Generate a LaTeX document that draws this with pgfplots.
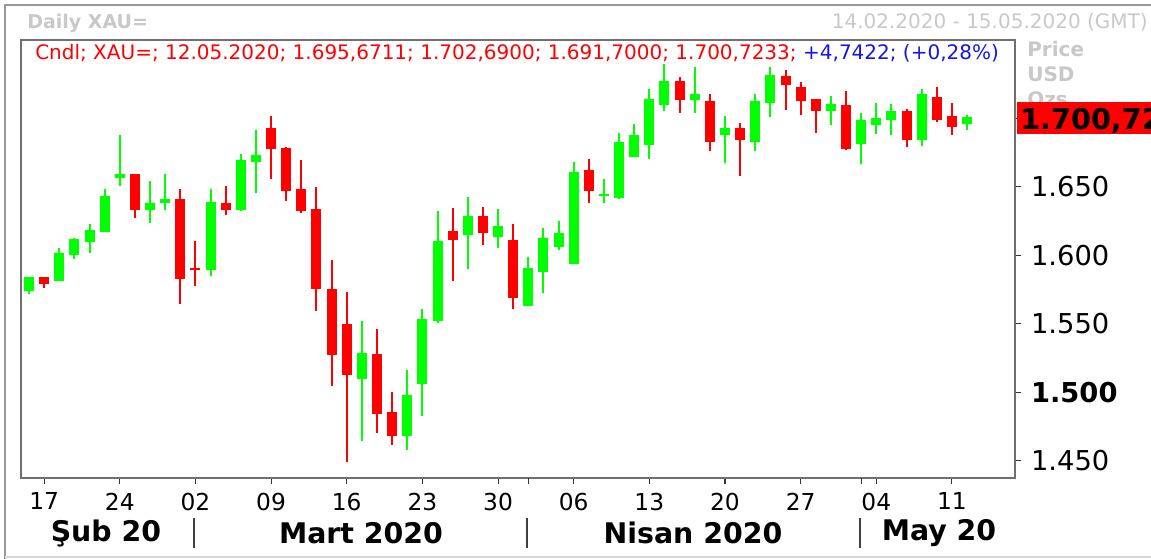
\documentclass[border=0pt]{standalone}
\usepackage{pgfplots}
\pgfplotsset{compat=1.18}
\usepackage{pgfplotstable}
\usepackage{fontspec}
\setmainfont{DejaVu Sans}
\definecolor{cgreen}{RGB}{0,255,0}
\definecolor{cred}{RGB}{255,0,0}
\definecolor{cframe}{RGB}{112,112,112}
\definecolor{lgray}{RGB}{200,200,200}
\definecolor{cblue}{RGB}{20,20,235}

% i = trading day index (0 = 14.02.2020), o h l c
\pgfplotstableread{
i o h l c
0 1573.9 1584.1 1571.9 1584.1
2 1581.2 1605.3 1581.2 1601.6
3 1600.1 1612.6 1597.2 1611.8
4 1609.6 1622.8 1601.6 1618.4
5 1616.9 1648.3 1616.9 1643.2
6 1656.6 1687.7 1650.5 1659.3
8 1633.0 1654.2 1623.5 1638.1
9 1638.1 1659.3 1633.0 1641.0
12 1589.2 1648.3 1584.8 1638.8
14 1633.0 1673.9 1632.3 1669.5
15 1668.0 1691.4 1645.4 1673.1
22 1509.6 1552.0 1464.4 1528.6
25 1468.0 1516.2 1457.8 1498.0
26 1506.0 1560.7 1482.6 1553.4
27 1552.0 1632.3 1550.5 1610.4
29 1614.7 1642.4 1589.9 1628.6
31 1613.3 1633.7 1605.3 1621.3
33 1562.9 1598.7 1562.9 1590.6
34 1587.7 1619.9 1572.4 1612.6
35 1606.0 1625.0 1603.8 1616.2
36 1593.6 1668.0 1593.6 1660.7
38 1643.1 1655.6 1638.1 1644.3
39 1641.7 1689.2 1641.0 1682.6
40 1671.7 1695.8 1671.7 1687.7
41 1680.4 1721.3 1670.2 1714.0
42 1709.6 1739.5 1705.2 1727.1
44 1713.3 1737.4 1703.8 1717.6
46 1687.7 1701.6 1667.3 1692.8
48 1682.6 1717.6 1676.1 1712.5
49 1711.1 1737.4 1700.9 1731.5
53 1705.2 1716.2 1695.0 1710.4
55 1681.2 1703.8 1666.5 1698.7
56 1695.0 1711.1 1688.5 1700.1
57 1698.7 1710.4 1687.7 1705.2
59 1684.1 1721.3 1679.7 1717.6
62 1695.67 1702.69 1691.70 1700.72
}\greendata

\pgfplotstableread{
i o h l c
1 1584.1 1584.1 1576.3 1579.2
7 1659.3 1659.3 1627.1 1633.0
10 1641.0 1648.3 1564.4 1582.6
11 1590.5 1610.3 1577.8 1589.6
13 1638.1 1650.5 1629.4 1633.0
16 1692.8 1701.6 1655.6 1677.5
17 1678.2 1679.0 1639.6 1647.1
18 1648.3 1669.5 1630.9 1632.3
19 1633.7 1649.8 1559.3 1575.3
20 1575.3 1596.5 1504.5 1527.2
21 1549.8 1573.1 1449.1 1512.6
23 1527.9 1546.1 1470.2 1484.1
24 1485.5 1500.1 1461.5 1468.0
28 1617.7 1634.5 1581.2 1611.1
30 1628.6 1635.2 1607.5 1616.2
32 1611.1 1622.8 1560.7 1568.8
37 1662.0 1670.2 1638.1 1646.7
43 1727.1 1730.1 1703.8 1713.3
45 1712.5 1717.6 1676.1 1682.6
47 1692.8 1696.5 1657.7 1684.1
50 1730.8 1735.2 1706.0 1724.2
51 1722.8 1726.4 1702.3 1712.5
52 1714.0 1714.0 1689.2 1705.2
54 1709.6 1719.8 1676.8 1677.5
58 1705.2 1706.7 1679.0 1684.1
60 1715.4 1722.8 1697.2 1698.7
61 1701.6 1711.1 1687.7 1693.6
}\reddata

\pgfplotsset{
  wick/.style={only marks, mark=*, mark size=0pt, mark options={draw=none, fill=none}, forget plot,
    error bars/.cd, y dir=both, y explicit, error mark=none,
    error bar style={draw=#1, line width=1.5pt}},
  body/.style={only marks, mark=*, mark size=0pt, mark options={draw=none, fill=none}, forget plot,
    error bars/.cd, y dir=both, y explicit, error mark=none,
    error bar style={draw=#1, line width=7.5pt}},
}

\begin{document}
\begin{tikzpicture}
\path[use as bounding box] (0,0) rectangle (863.25pt,-419.25pt);
\begin{scope}
\clip (0,0) rectangle (863.25pt,-419.25pt);
\begin{axis}[
  at={(15.75pt,-358.5pt)}, anchor=south west,
  width=745.5pt, height=328.5pt, scale only axis,
  xmin=-0.53, xmax=65.17, ymin=1437.4, ymax=1757.1,
  axis line style={draw=cframe, line width=1.5pt},
  xtick={1,6,...,61},
  xticklabels={17,24,02,09,16,23,30,06,13,20,27,04,11},
  extra x ticks={33,55}, extra x tick labels={},
  ytick={1450,1500,...,1700},
  yticklabels={1.450,\textbf{1.500},1.550,1.600,1.650,1.700},
  xtick pos=left, ytick pos=right, yticklabel pos=right,
  tick align=outside, major tick length=4.5pt,
  tick style={draw=black!80, line width=0.8pt},
  every extra x tick/.style={tick style={draw=black!80, line width=0.8pt}},
  xticklabel style={font=\fontsize{17.5}{20}\selectfont, yshift=-3pt},
  yticklabel style={font=\fontsize{20.5}{24}\selectfont, anchor=west, xshift=4pt},
]
\addplot[wick=cgreen] table[x=i, y expr={(\thisrow{h}+\thisrow{l})/2}, y error expr={(\thisrow{h}-\thisrow{l})/2}] {\greendata};
\addplot[wick=cred] table[x=i, y expr={(\thisrow{h}+\thisrow{l})/2}, y error expr={(\thisrow{h}-\thisrow{l})/2}] {\reddata};
\addplot[body=cgreen] table[x=i, y expr={(\thisrow{o}+\thisrow{c})/2}, y error expr={max(abs(\thisrow{o}-\thisrow{c})/2,0.73)}] {\greendata};
\addplot[body=cred] table[x=i, y expr={(\thisrow{o}+\thisrow{c})/2}, y error expr={max(abs(\thisrow{o}-\thisrow{c})/2,0.73)}] {\reddata};
\end{axis}

\begin{scope}[x=0.75pt, y=-0.75pt]
  % outer frame
  \draw[color=black!40, line width=1.5pt] (5,559) -- (5,5) -- (1151,5);
  \draw[color=black!15, line width=1pt] (5,557) -- (1151,557);
  % titles
  \node[anchor=base west, inner sep=0, text=lgray, font=\fontsize{14.25}{16}\selectfont\bfseries] at (27,29) {Daily XAU=};
  \node[anchor=base east, inner sep=0, text=lgray, font=\fontsize{15}{17}\selectfont] at (1148,29) {14.02.2020 - 15.05.2020 (GMT)};
  % legend line
  \node[anchor=base west, inner sep=0, font=\fontsize{15}{18}\selectfont] at (35,60)
    {\textcolor{cred}{Cndl; XAU=; 12.05.2020; 1.695,6711; 1.702,6900; 1.691,7000; 1.700,7233;} \textcolor{cblue}{+4,7422; (+0,28\%)}};
  % right-side captions
  \node[anchor=base west, inner sep=0, text=lgray, font=\fontsize{15}{17}\selectfont\bfseries] at (1027,57) {Price};
  \node[anchor=base west, inner sep=0, text=lgray, font=\fontsize{15}{17}\selectfont\bfseries] at (1027,82) {USD};
  \node[anchor=base west, inner sep=0, text=lgray, font=\fontsize{15}{17}\selectfont\bfseries] at (1027,107) {Ozs};
  % last price box
  \fill[cred] (1017,102) rectangle (1153,134);
  \node[anchor=base west, inner sep=0, font=\fontsize{21.5}{24}\selectfont\bfseries] at (1020,129.5) {1.700,7233};
  % month separators and labels
  \foreach \xx in {194,527,860} \draw[black!75, line width=1.2pt] (\xx,518) -- (\xx,548);
  \node[inner sep=0, font=\fontsize{21.3}{24}\selectfont\bfseries] at (106,533) {Şub 20};
  \node[inner sep=0, font=\fontsize{21.3}{24}\selectfont\bfseries] at (361,533) {Mart 2020};
  \node[inner sep=0, font=\fontsize{21.3}{24}\selectfont\bfseries] at (693,533) {Nisan 2020};
  \node[inner sep=0, font=\fontsize{21.3}{24}\selectfont\bfseries] at (939,533) {May 20};
\end{scope}
\end{scope}
\end{tikzpicture}
\end{document}
